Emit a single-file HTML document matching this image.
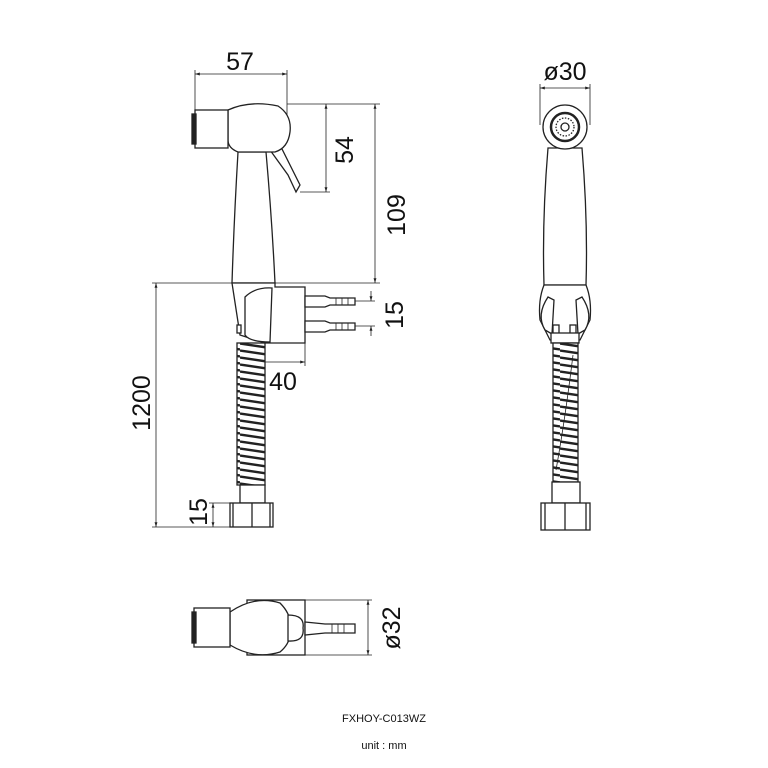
<!DOCTYPE html>
<html><head><meta charset="utf-8"><style>html,body{margin:0;padding:0;background:#fff}svg{display:block}</style></head>
<body>
<svg width="768" height="768" viewBox="0 0 768 768" xmlns="http://www.w3.org/2000/svg" font-family="Liberation Sans, DejaVu Sans, sans-serif">
<defs>
<pattern id="sp" width="40" height="7" patternUnits="userSpaceOnUse">
<rect width="40" height="7" fill="#fff"/>
<path d="M0 0.5 L40 6.5 M0 -6.5 L40 -0.5 M0 7.5 L40 13.5" stroke="#222" stroke-width="2.4"/>
</pattern>
<marker id="a" viewBox="0 0 10 10" refX="10" refY="5" markerWidth="6" markerHeight="6" orient="auto-start-reverse"><path d="M0 2 L10 5 L0 8 z" fill="#222"/></marker>
</defs>
<g stroke="#222" fill="none" stroke-width="0.8">
<line x1="195" y1="74" x2="287" y2="74" marker-start="url(#a)" marker-end="url(#a)"/>
<line x1="195" y1="70" x2="195" y2="110"/><line x1="287" y1="70" x2="287" y2="118"/>
<line x1="287" y1="104" x2="380" y2="104"/>
<line x1="326" y1="104" x2="326" y2="192" marker-start="url(#a)" marker-end="url(#a)"/>
<line x1="300" y1="192" x2="330" y2="192"/>
<line x1="375" y1="104" x2="375" y2="283" marker-start="url(#a)" marker-end="url(#a)"/>
<line x1="152" y1="283" x2="380" y2="283"/>
<line x1="156" y1="283" x2="156" y2="527" marker-start="url(#a)" marker-end="url(#a)"/>
<line x1="152" y1="527" x2="232" y2="527"/>
<line x1="355" y1="301" x2="375" y2="301"/><line x1="355" y1="326" x2="375" y2="326"/>
<line x1="371" y1="291" x2="371" y2="301" marker-end="url(#a)"/><line x1="371" y1="336" x2="371" y2="326" marker-end="url(#a)"/>
<line x1="265" y1="362" x2="305" y2="362" marker-end="url(#a)"/><line x1="305" y1="343" x2="305" y2="366"/>
<line x1="213" y1="503" x2="213" y2="527" marker-start="url(#a)" marker-end="url(#a)"/>
<line x1="209" y1="503" x2="232" y2="503"/>
<line x1="540" y1="88" x2="590" y2="88" marker-start="url(#a)" marker-end="url(#a)"/>
<line x1="540" y1="84" x2="540" y2="125"/><line x1="590" y1="84" x2="590" y2="125"/>
<line x1="368" y1="600" x2="368" y2="655" marker-start="url(#a)" marker-end="url(#a)"/>
<line x1="305" y1="600" x2="372" y2="600"/><line x1="305" y1="655" x2="372" y2="655"/>
</g>
<g stroke="#222" fill="#fff" stroke-width="1.3">
<path d="M238 152 L266 152 Q272 220 275 283 L232 283 Q234 220 238 152 Z"/>
<path d="M270 150 L280 145 L300 185 L296 192 L288 175 Z"/>
<path d="M228 110 Q250 100 278 106 Q292 115 290 132 Q288 148 275 152 L238 152 Q228 148 228 140 Z"/>
<rect x="195" y="110" width="33" height="38"/>
<rect x="192" y="114" width="4" height="30" fill="#222"/>
<path d="M232 283 L275 283 L275 287 L305 287 L305 343 L265 343 L240 335 Z"/>
<path d="M245 297 Q255 287 272 288 L270 342 Q250 342 245 335 Z"/>
<rect x="237" y="325" width="4" height="8"/>
<path d="M305 296 L325 296 L330 298 L355 298 L355 305 L330 305 L325 307 L305 307 Z"/>
<path d="M305 321 L325 321 L330 323 L355 323 L355 330 L330 330 L325 332 L305 332 Z"/>
<rect x="237" y="343" width="28" height="142" fill="url(#sp)"/>
<rect x="240" y="485" width="25" height="18"/>
<rect x="230" y="503" width="43" height="24"/><line x1="252" y1="503" x2="252" y2="527"/><line x1="233" y1="503" x2="233" y2="527"/><line x1="270" y1="503" x2="270" y2="527"/>
<path d="M548 148 L582 148 Q588 220 586 285 L544 285 Q542 220 548 148 Z"/>
<circle cx="565" cy="127" r="22"/>
<circle cx="565" cy="127" r="14" stroke-width="2.5"/>
<circle cx="565" cy="127" r="9" stroke-dasharray="1.5 1.5"/>
<circle cx="565" cy="127" r="4"/>
<path d="M544 285 L586 285 Q592 300 590 320 L580 340 L550 340 L540 320 Q538 300 544 285 Z"/>
<path d="M548 297 Q536 315 545 330 L552 334 L554 300 Z"/>
<path d="M582 297 Q594 315 585 330 L578 334 L576 300 Z"/>
<rect x="553" y="325" width="6" height="10"/><rect x="570" y="325" width="6" height="10"/>
<rect x="551" y="333" width="28" height="10"/>
<rect x="553" y="343" width="25" height="139" fill="url(#sp)"/>
<path d="M573 355 Q565 420 556 470" fill="none" stroke-width="0.8"/>
<rect x="552" y="482" width="28" height="21"/>
<rect x="541" y="503" width="49" height="27"/><line x1="565" y1="503" x2="565" y2="530"/><line x1="545" y1="503" x2="545" y2="530"/><line x1="586" y1="503" x2="586" y2="530"/>
<rect x="247" y="600" width="58" height="55"/>
<path d="M230 612 Q255 595 280 603 Q292 615 290 628 Q292 642 280 652 Q255 660 230 645 Z"/>
<path d="M288 615 Q305 615 303 628 Q305 642 288 641 Z"/>
<rect x="194" y="608" width="36" height="39"/>
<rect x="192" y="612" width="4" height="31" fill="#222"/>
<path d="M305 622 L325 624 L355 624 L355 633 L325 633 L305 635 Z"/>
</g>
<g stroke="#222" stroke-width="0.8">
<line x1="336" y1="298" x2="336" y2="305"/><line x1="342" y1="298" x2="342" y2="305"/><line x1="348" y1="298" x2="348" y2="305"/>
<line x1="336" y1="323" x2="336" y2="330"/><line x1="342" y1="323" x2="342" y2="330"/><line x1="348" y1="323" x2="348" y2="330"/>
<line x1="332" y1="624" x2="332" y2="633"/><line x1="338" y1="624" x2="338" y2="633"/><line x1="344" y1="624" x2="344" y2="633"/>
</g>
<g fill="#111" font-size="25">
<text x="240" y="70" text-anchor="middle">57</text>
<text x="565" y="80" text-anchor="middle">ø30</text>
<text x="283" y="390" text-anchor="middle">40</text>
<text transform="translate(353,150) rotate(-90)" text-anchor="middle">54</text>
<text transform="translate(405,215) rotate(-90)" text-anchor="middle">109</text>
<text transform="translate(403,315) rotate(-90)" text-anchor="middle">15</text>
<text transform="translate(150,403) rotate(-90)" text-anchor="middle">1200</text>
<text transform="translate(207,512) rotate(-90)" text-anchor="middle">15</text>
<text transform="translate(400,628) rotate(-90)" text-anchor="middle">ø32</text>
</g>
<text x="384" y="722" font-size="11" text-anchor="middle" fill="#111">FXHOY-C013WZ</text>
<text x="384" y="749" font-size="11" text-anchor="middle" fill="#111">unit : mm</text>
</svg>
</body></html>
